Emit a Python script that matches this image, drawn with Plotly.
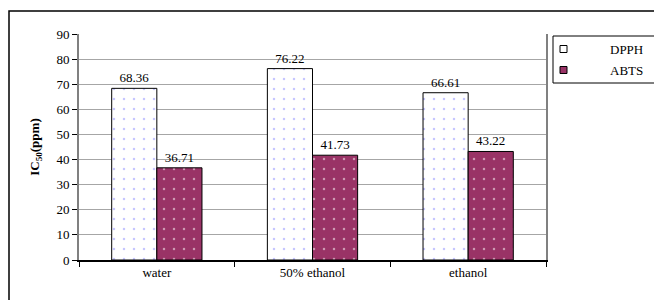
import plotly.graph_objects as go

categories = ["water", "50% ethanol", "ethanol"]
dpph = [68.36, 76.22, 66.61]
abts = [36.71, 41.73, 43.22]
yticks = [0, 10, 20, 30, 40, 50, 60, 70, 80, 90]
series_names = ["DPPH", "ABTS"]
series_colors = ["white", "#993366"]

FONT = "Liberation Serif"
L, R, T, B = 79, 108, 34, 40
W, H = 654, 300
PW, PH = W - L - R, H - T - B


def px(x):
    return (x - L) / PW


def py(y):
    return (H - B - y) / PH


fig = go.Figure()
fig.add_trace(go.Bar(
    x=categories, y=dpph, name=series_names[0],
    text=[f"{v:.2f}" for v in dpph], textposition="outside",
    textfont=dict(family=FONT, size=13, color="black"),
    marker=dict(color=series_colors[0], line=dict(color="black", width=1),
                pattern=dict(shape=".", bgcolor="white", fgcolor="#8c8cff",
                             size=10, solidity=0.05)),
    cliponaxis=False,
))
fig.add_trace(go.Bar(
    x=categories, y=abts, name=series_names[1],
    text=[f"{v:.2f}" for v in abts], textposition="outside",
    textfont=dict(family=FONT, size=13, color="black"),
    marker=dict(color=series_colors[1], line=dict(color="black", width=1),
                pattern=dict(shape=".", bgcolor="#993366", fgcolor="white",
                             size=10, solidity=0.05)),
    cliponaxis=False,
))

shapes = [
    dict(type="rect", xref="paper", yref="paper",
         x0=px(9), x1=px(700), y0=py(340), y1=py(11),
         line=dict(color="black", width=1.5), layer="below"),
    dict(type="rect", xref="paper", yref="paper",
         x0=px(553), x1=px(700), y0=py(83), y1=py(36),
         line=dict(color="black", width=1), fillcolor="white", layer="above"),
]
annotations = []
for i, (nm, col) in enumerate(zip(series_names, series_colors)):
    cy = 49 + i * 21
    shapes.append(dict(type="rect", xref="paper", yref="paper",
                       x0=px(560), x1=px(567), y0=py(cy + 3.5), y1=py(cy - 3.5),
                       line=dict(color="black", width=1), fillcolor=col, layer="above"))
    annotations.append(dict(text=nm, xref="paper", yref="paper", x=px(608), y=py(cy),
                            xanchor="left", yanchor="middle", showarrow=False,
                            font=dict(family=FONT, size=13, color="black")))

fig.update_layout(
    width=W, height=H,
    margin=dict(l=L, r=R, t=T, b=B),
    paper_bgcolor="white", plot_bgcolor="white",
    font=dict(family=FONT, size=13, color="black"),
    barmode="group", bargap=0.42, bargroupgap=0,
    showlegend=False,
    xaxis=dict(showgrid=False, showline=True, linecolor="black", linewidth=1.5,
               ticks="outside", tickson="boundaries", ticklen=5, tickcolor="black",
               tickfont=dict(family=FONT, size=13, color="black")),
    yaxis=dict(range=[0, 90], tickvals=yticks, showgrid=True, gridcolor="#a6a6a6",
               gridwidth=1, showline=True, linecolor="#808080", linewidth=2,
               mirror=True, ticks="outside", ticklen=5, tickcolor="black",
               zeroline=False,
               tickfont=dict(family=FONT, size=13, color="black"),
               title=dict(text="<b>IC<sub>50</sub>(ppm)</b>",
                          font=dict(family=FONT, size=13, color="black"),
                          standoff=14)),
    shapes=shapes,
    annotations=annotations,
)

fig.write_html("out.html", config={"displayModeBar": False},
               post_script="document.body.style.margin='0';document.body.style.overflow='hidden';")
